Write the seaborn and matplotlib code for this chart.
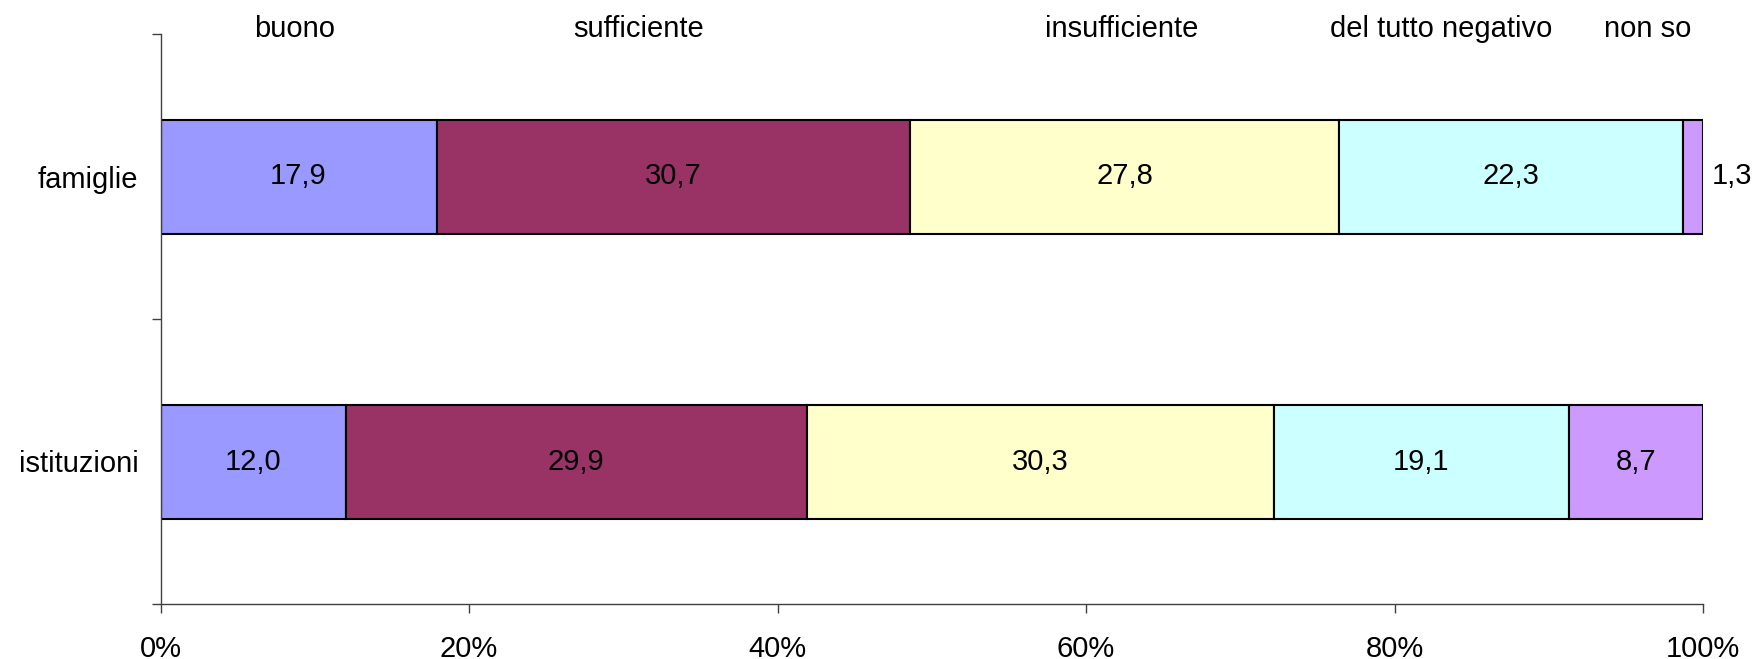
import matplotlib
matplotlib.use("Agg")
import matplotlib.pyplot as plt
import matplotlib.transforms as mtransforms
from matplotlib.ticker import FixedLocator, FuncFormatter
import numpy as np
import pandas as pd
import seaborn as sns

# Survey judgement shares (%) for two respondent groups
groups = ["famiglie", "istituzioni"]
ratings = ["buono", "sufficiente", "insufficiente", "del tutto negativo", "non so"]
famiglie = [17.9, 30.7, 27.8, 22.3, 1.3]
istituzioni = [12.0, 29.9, 30.3, 19.1, 8.7]
x_ticks = [0, 20, 40, 60, 80, 100]

palette = ["#9999FF", "#993366", "#FFFFCC", "#CCFFFF", "#CC99FF"]
# horizontal placement (in % units) of the rating captions above the plot
caption_x = [8.7, 31.0, 62.3, 83.0, 96.4]

sns.set_style("white")
plt.rcParams["font.family"] = ["Liberation Sans", "DejaVu Sans"]
FS = 21

values = np.array([famiglie, istituzioni])
starts = np.cumsum(values, axis=1) - values

rows = []
for gi, g in enumerate(groups):
    for ri, r in enumerate(ratings):
        rows.append({"group": g, "rating": r,
                     "value": values[gi, ri], "start": starts[gi, ri]})
df = pd.DataFrame(rows)

fig = plt.figure(figsize=(17.57, 6.59), dpi=100)
ax = fig.add_axes([160.5 / 1757, 1 - 604 / 659, (1703 - 160.5) / 1757, (604 - 34) / 659])

for ri, r in enumerate(ratings):
    sub = df[df["rating"] == r].set_index("group").loc[groups].reset_index()
    sns.barplot(data=sub, x="value", y="group", order=groups, orient="y",
                color=palette[ri], saturation=1, width=0.4, errorbar=None,
                left=sub["start"].to_numpy(), edgecolor="black", linewidth=1.5,
                ax=ax)

# value labels inside (or just outside, when too narrow) each segment
for gi in range(len(groups)):
    for ri in range(len(ratings)):
        v = values[gi, ri]
        txt = f"{v:.1f}".replace(".", ",")
        if v < 3:
            ax.annotate(txt, xy=(starts[gi, ri] + v, gi), xytext=(6.5, 0),
                        textcoords="offset points", ha="left", va="center",
                        fontsize=FS, color="black", annotation_clip=False)
        else:
            ax.text(starts[gi, ri] + v / 2, gi, txt, ha="center", va="center",
                    fontsize=FS, color="black")

# rating captions in a row above the plot
trans = mtransforms.blended_transform_factory(ax.transData, ax.transAxes)
for r, cx in zip(ratings, caption_x):
    ax.text(cx, 0.9947, r, transform=trans, ha="center", va="baseline",
            fontsize=FS, color="black", clip_on=False)

ax.set_xlim(0, 100)
ax.set_ylim(1.5, -0.5)
ax.set_xlabel("")
ax.set_ylabel("")

ax.xaxis.set_major_locator(FixedLocator(x_ticks))
ax.xaxis.set_major_formatter(FuncFormatter(lambda v, p: f"{v:.0f}%"))
ax.yaxis.set_major_locator(FixedLocator(range(len(groups))))
ax.set_yticklabels(groups)
ax.yaxis.set_minor_locator(FixedLocator([-0.5, 0.5, 1.5]))

spine_col = "#404040"
for side in ["top", "right"]:
    ax.spines[side].set_visible(False)
for side in ["left", "bottom"]:
    ax.spines[side].set_color(spine_col)
    ax.spines[side].set_linewidth(1.0)

ax.tick_params(axis="x", which="major", direction="out", length=6.5, width=1,
               color=spine_col, labelsize=FS, labelcolor="black", pad=15.5, bottom=True)
ax.tick_params(axis="y", which="major", length=0, labelsize=FS,
               labelcolor="black", pad=16, left=True)
ax.tick_params(axis="y", which="minor", direction="out", length=6.5, width=1,
               color=spine_col, left=True)

fig.savefig("out.png", dpi=100)
